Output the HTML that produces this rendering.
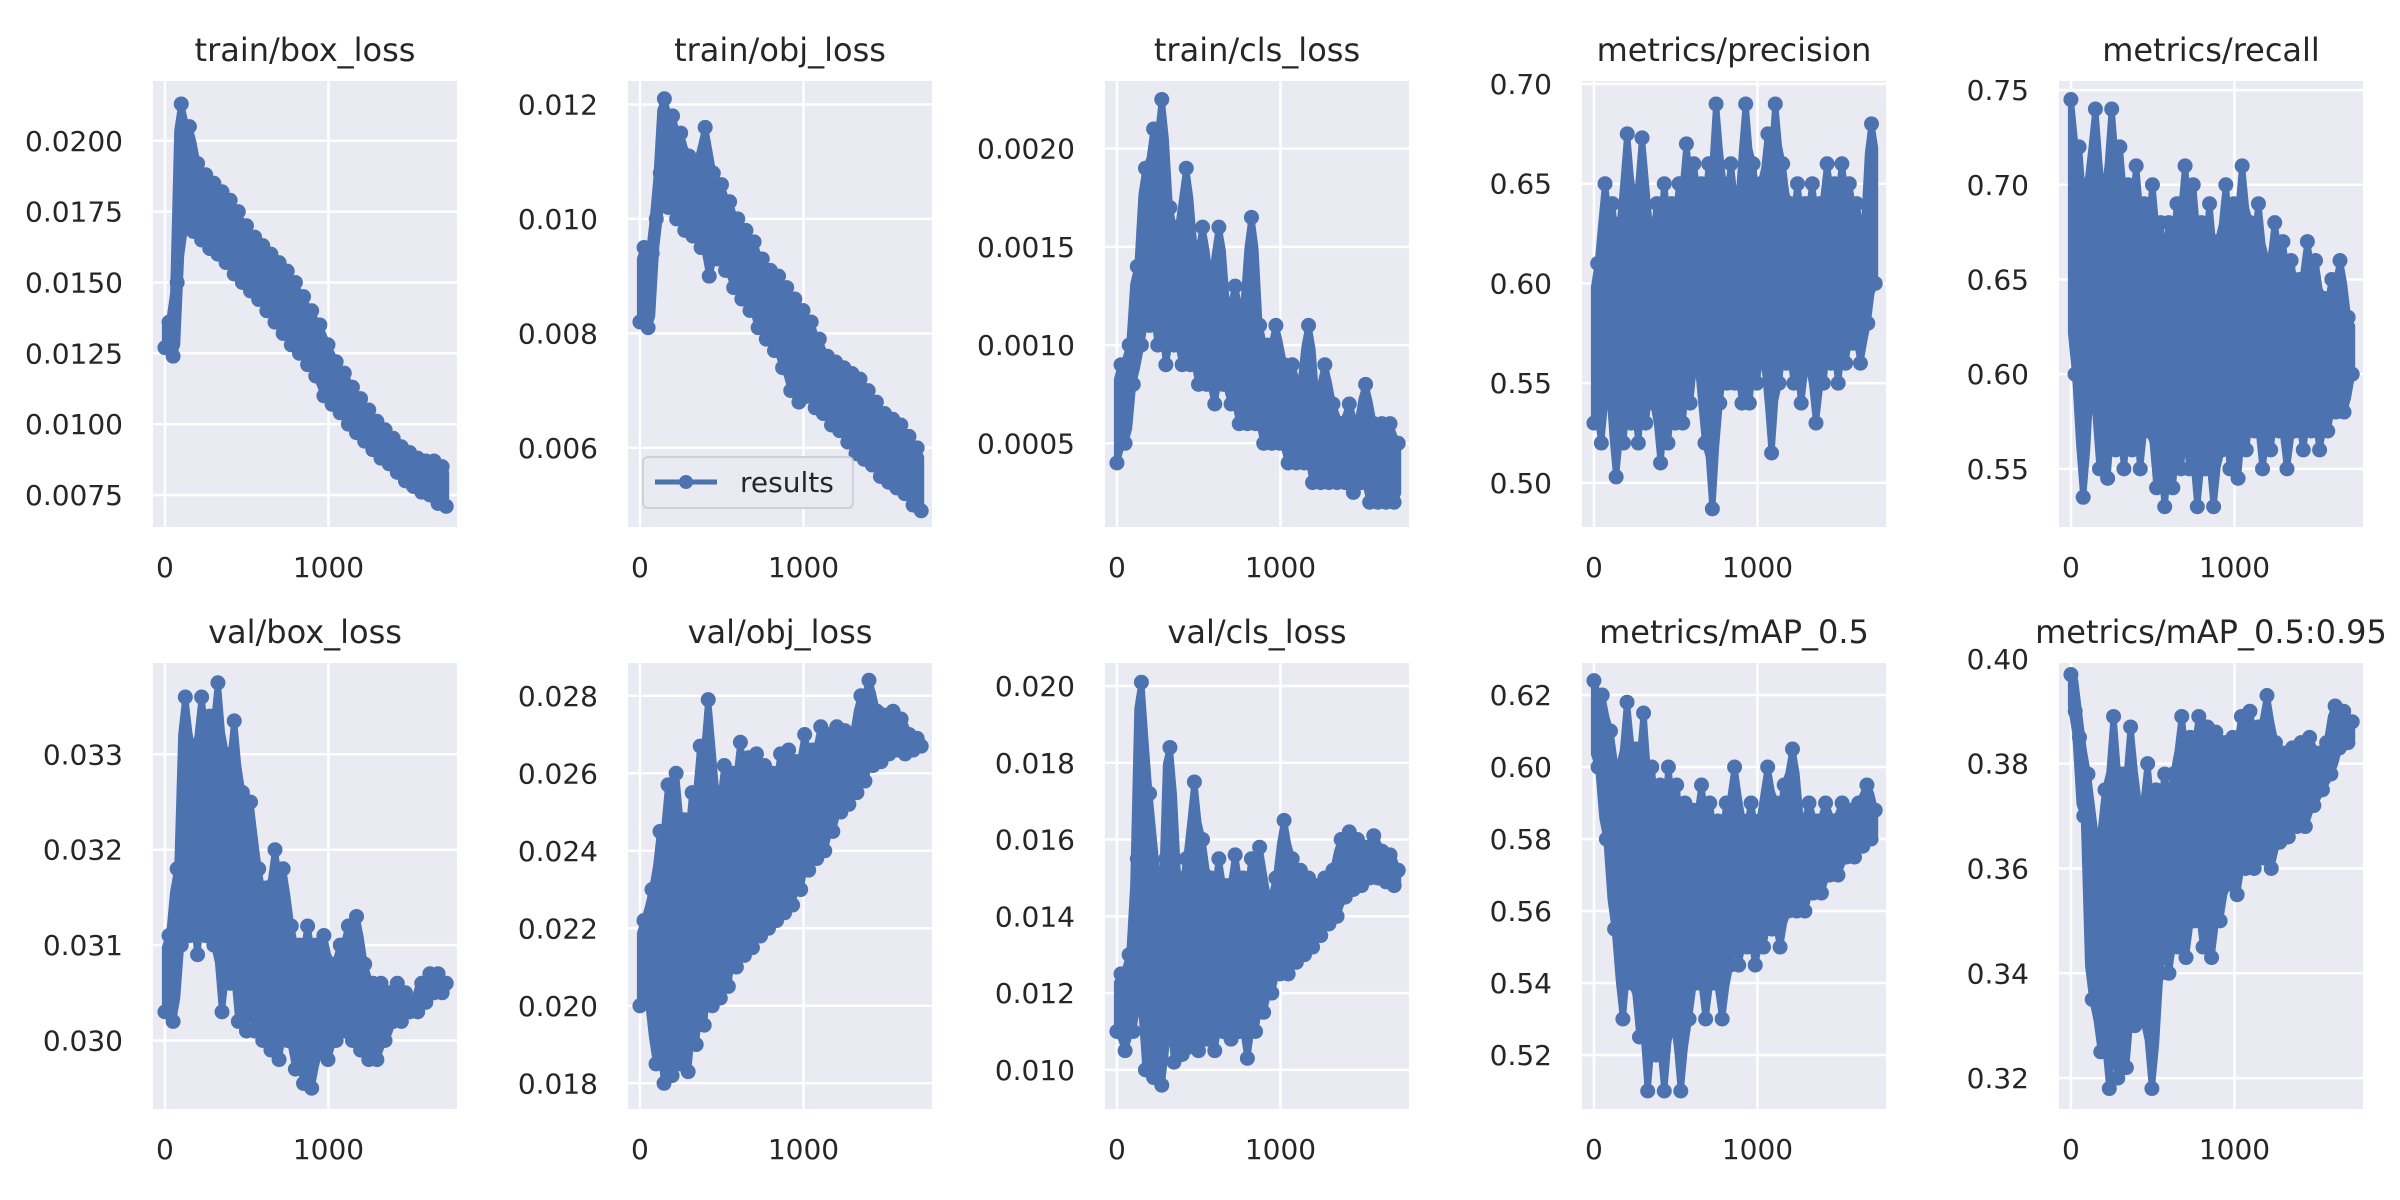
<!DOCTYPE html>
<html><head><meta charset="utf-8"><style>
html,body{margin:0;padding:0;background:#fff}
svg{display:block}
text{font-family:"DejaVu Sans","Liberation Sans",sans-serif;fill:#262626}
</style></head>
<body>
<svg id="chart" width="2400" height="1200" viewBox="0 0 2400 1200" xmlns="http://www.w3.org/2000/svg"></svg>
<script>
// ---- data (alternating upper/lower envelope samples over epochs 0..1720) ----
const xTicks = [0, 1000];
const titles = ["train/box_loss","train/obj_loss","train/cls_loss","metrics/precision","metrics/recall",
                "val/box_loss","val/obj_loss","val/cls_loss","metrics/mAP_0.5","metrics/mAP_0.5:0.95"];
const trainBox = [.0127,.0136,.0124,.0150,.0213,.0170,.0205,.0168,.0192,.0165,.0188,.0162,.0185,.0160,.0182,.0157,.0179,.0153,.0175,.0150,.0170,.0147,.0166,.0144,.0163,.0140,.0160,.0136,.0157,.0132,.0154,.0128,.0150,.0125,.0145,.0121,.0140,.0117,.0135,.0110,.0128,.0107,.0122,.0104,.0118,.0100,.0113,.0097,.0109,.0094,.0105,.0091,.0101,.0088,.0098,.0086,.0095,.0083,.0092,.0080,.0090,.0078,.0088,.0076,.0087,.0075,.0087,.0072,.0085,.0071];
const trainObj = [.0082,.0095,.0081,.0094,.0100,.0108,.0121,.0102,.0118,.0100,.0115,.0098,.0111,.0097,.0110,.0095,.0116,.0090,.0108,.0093,.0106,.0091,.0103,.0088,.0100,.0086,.0098,.0084,.0096,.0081,.0093,.0079,.0091,.0077,.0090,.0074,.0088,.0070,.0086,.0068,.0084,.0069,.0082,.0067,.0079,.0066,.0076,.0064,.0075,.0063,.0074,.0061,.0073,.0059,.0072,.0058,.0070,.0057,.0068,.0055,.0066,.0054,.0065,.0053,.0064,.0052,.0062,.0050,.0060,.0049];
const trainCls = [.0004,.0009,.0005,.0010,.0008,.0014,.0010,.0019,.0011,.0021,.0010,.00225,.0009,.0017,.0010,.0016,.0009,.0019,.0009,.0015,.0008,.0016,.0008,.0013,.0007,.0016,.0008,.0012,.0007,.0013,.0006,.0012,.0006,.00165,.0006,.0011,.0005,.0010,.0005,.0011,.0005,.0009,.0004,.0009,.0004,.0008,.0004,.0011,.0003,.0007,.0003,.0009,.0003,.0007,.0003,.0006,.0003,.0007,.00025,.0006,.0003,.0008,.0002,.0006,.0002,.0006,.0002,.0006,.0002,.0005];
const precision = [.53,.61,.52,.65,.55,.64,.503,.63,.52,.675,.53,.64,.52,.673,.53,.63,.54,.64,.51,.65,.52,.64,.53,.65,.53,.67,.54,.66,.56,.65,.52,.66,.487,.69,.54,.65,.55,.66,.55,.64,.54,.69,.54,.66,.55,.65,.56,.675,.515,.69,.55,.66,.56,.64,.55,.65,.54,.64,.56,.65,.53,.64,.55,.66,.56,.65,.55,.66,.56,.65,.57,.64,.56,.63,.58,.68,.60];
const recall = [.745,.60,.72,.535,.70,.60,.74,.55,.69,.545,.74,.56,.72,.55,.70,.56,.71,.55,.69,.57,.70,.54,.68,.53,.68,.54,.69,.55,.71,.55,.70,.53,.68,.55,.69,.53,.67,.56,.70,.55,.69,.545,.71,.56,.68,.57,.69,.55,.66,.56,.68,.57,.67,.55,.66,.57,.65,.56,.67,.57,.66,.56,.64,.57,.65,.58,.66,.58,.63,.60];
const valBox = [.0303,.0311,.0302,.0318,.0310,.0336,.0311,.0330,.0309,.0336,.0311,.0334,.0310,.03375,.0303,.0330,.0306,.03335,.0302,.0326,.0301,.0325,.0301,.0318,.0300,.0316,.0299,.0320,.0298,.0318,.0300,.0312,.0297,.0310,.02955,.0312,.0295,.0310,.0299,.0311,.0298,.0308,.0300,.0310,.0301,.0312,.0300,.0313,.0299,.0308,.0298,.0306,.0298,.0306,.0300,.0305,.0302,.0306,.0302,.0305,.0303,.0304,.0303,.0306,.0304,.0307,.0305,.0307,.0305,.0306];
const valObj = [.0200,.0222,.0201,.0230,.0185,.0245,.0180,.0257,.0182,.0260,.0185,.0248,.0183,.0255,.0190,.0267,.0195,.0279,.0200,.0255,.0202,.0262,.0205,.0260,.0210,.0268,.0213,.0264,.0215,.0265,.0218,.0262,.0220,.0260,.0222,.0265,.0224,.0266,.0226,.0263,.0230,.0270,.0235,.0266,.0238,.0272,.0240,.0270,.0245,.0272,.0250,.0271,.0252,.0270,.0255,.0280,.0258,.0284,.0262,.0276,.0263,.0275,.0265,.0276,.0266,.0274,.0265,.0270,.0266,.0269,.0267];
const valCls = [.0110,.0125,.0105,.0130,.0110,.0155,.0201,.0100,.0172,.0098,.0150,.0096,.0155,.0184,.0102,.0150,.0104,.0155,.0106,.0175,.0105,.0160,.0108,.0150,.0105,.0155,.0110,.0148,.0108,.0156,.0110,.0150,.0103,.0155,.0110,.0158,.0115,.0145,.0120,.0150,.0125,.0165,.0125,.0155,.0128,.0152,.0130,.0150,.0132,.0148,.0135,.0150,.0138,.0152,.0140,.0160,.0145,.0162,.0147,.0160,.0148,.0158,.0150,.0161,.0150,.0157,.0149,.0156,.0148,.0152];
const map50 = [.624,.60,.620,.58,.61,.555,.60,.53,.618,.54,.605,.525,.615,.51,.60,.52,.595,.51,.600,.53,.595,.51,.59,.53,.588,.54,.595,.53,.59,.54,.585,.53,.59,.545,.60,.545,.585,.55,.59,.545,.585,.55,.60,.555,.59,.55,.595,.56,.605,.56,.585,.56,.59,.565,.585,.565,.59,.57,.585,.57,.59,.575,.588,.575,.59,.578,.595,.58,.588];
const map5095 = [.397,.390,.385,.370,.378,.335,.365,.325,.375,.318,.389,.320,.378,.322,.387,.330,.372,.331,.380,.318,.375,.340,.378,.340,.378,.345,.389,.343,.385,.350,.389,.345,.387,.343,.386,.350,.384,.357,.385,.355,.389,.360,.390,.360,.387,.362,.393,.360,.384,.365,.382,.366,.383,.368,.384,.368,.385,.372,.382,.375,.384,.378,.391,.383,.390,.384,.388];
const seriesList = [trainBox, trainObj, trainCls, precision, recall, valBox, valObj, valCls, map50, map5095];
const yTicks = [
  [.0075,.0100,.0125,.0150,.0175,.0200],
  [.006,.008,.010,.012],
  [.0005,.0010,.0015,.0020],
  [.50,.55,.60,.65,.70],
  [.55,.60,.65,.70,.75],
  [.030,.031,.032,.033],
  [.018,.020,.022,.024,.026,.028],
  [.010,.012,.014,.016,.018,.020],
  [.52,.54,.56,.58,.60,.62],
  [.32,.34,.36,.38,.40]
];
const tickDecimals = [4,3,4,2,2,3,3,3,2,2];
const yDomains = [[.00637,.02211],[.004617,.01241],[.000074,.002344],[.4779,.7015],[.5193,.7548],
                  [.029282,.033957],[.017337,.028846],[.00898,.0206],[.505,.6289],[.3141,.3992]];
const lastEpoch = 1720;

// ---- layout ----
const NS = "http://www.w3.org/2000/svg";
const svg = document.getElementById("chart");
const colLefts = [153, 628, 1105, 1582, 2059];
const rowTops = [81, 663];
const PW = 304, PH = 446;
const xMin = -73, xMax = 1786;
const blue = "#4C72B0";

function mk(tag, attrs, parent) {
  const e = document.createElementNS(NS, tag);
  for (const k in attrs) e.setAttribute(k, attrs[k]);
  (parent || svg).appendChild(e);
  return e;
}

seriesList.forEach((data, p) => {
  const L = colLefts[p % 5], T = rowTops[Math.floor(p / 5)];
  const [y0, y1] = yDomains[p];
  const sx = v => L + (v - xMin) / (xMax - xMin) * PW;
  const sy = v => T + PH - (v - y0) / (y1 - y0) * PH;

  const g = mk("g", {});
  
  

  const bg = mk("rect", {x: L, y: T, width: PW, height: PH, fill: "#EAEAF2"}, g);
  
  

  const clipId = "clip" + p;
  const cp = mk("clipPath", {id: clipId}, g);
  mk("rect", {x: L, y: T, width: PW, height: PH}, cp);

  xTicks.forEach(t => {
    const gl = mk("line", {x1: sx(t), x2: sx(t), y1: T, y2: T + PH, stroke: "#fff", "stroke-width": 2.5}, g);
    
    
    const tl = mk("text", {x: sx(t), y: T + PH + 50, "text-anchor": "middle", "font-size": 28}, g);
    
    
    tl.textContent = String(t);
  });
  yTicks[p].forEach(t => {
    const gl = mk("line", {x1: L, x2: L + PW, y1: sy(t), y2: sy(t), stroke: "#fff", "stroke-width": 2.5}, g);
    
    
    const tl = mk("text", {x: L - 30, y: sy(t) + 10, "text-anchor": "end", "font-size": 28}, g);
    
    
    tl.textContent = t.toFixed(tickDecimals[p]);
  });

  const title = mk("text", {x: L + PW / 2, y: T - 20, "text-anchor": "middle", "font-size": 32}, g);
  
  
  title.textContent = titles[p];

  const sg = mk("g", {"clip-path": "url(#" + clipId + ")"}, g);
  
  
  const n = data.length;
  const ex = i => i * lastEpoch / (n - 1);

  // dense band between successive samples (derived from the data)
  const up = [], lo = [];
  for (let i = 0; i < n; i++) {
    const a = data[Math.max(0, i - 1)], b = data[i], c = data[Math.min(n - 1, i + 1)];
    const hi = Math.max(b, b + (Math.max(a, c) - b) * 0.85);
    const lw = Math.min(b, b - (b - Math.min(a, c)) * 0.85);
    up.push(sx(ex(i)).toFixed(1) + "," + sy(hi).toFixed(1));
    lo.unshift(sx(ex(i)).toFixed(1) + "," + sy(lw).toFixed(1));
  }
  const band = mk("polygon", {points: up.concat(lo).join(" "), fill: blue, stroke: blue, "stroke-width": 6, "stroke-linejoin": "round"}, sg);
  
  

  const pts = data.map((v, i) => sx(ex(i)).toFixed(1) + "," + sy(v).toFixed(1)).join(" ");
  const line = mk("polyline", {points: pts, fill: "none", stroke: blue, "stroke-width": 5, "stroke-linejoin": "round"}, sg);
  
  
  data.forEach((v, i) => {
    const c = mk("circle", {cx: sx(ex(i)), cy: sy(v), r: 7.5, fill: blue}, sg);
    
    
  });

  if (p === 1) {
    const lg = mk("g", {}, g);
    
    
    mk("rect", {x: 643, y: 457, width: 210, height: 51, rx: 5, fill: "#EAEAF2", stroke: "#d0d0d8", "stroke-width": 2}, lg);
    const ll = mk("line", {x1: 655, x2: 717, y1: 482, y2: 482, stroke: blue, "stroke-width": 5}, lg);
    
    
    const lc = mk("circle", {cx: 686, cy: 482, r: 7, fill: blue}, lg);
    
    
    const lt = mk("text", {x: 740, y: 492, "font-size": 28}, lg);
    
    
    lt.textContent = "results";
  }
});
</script>
</body></html>
